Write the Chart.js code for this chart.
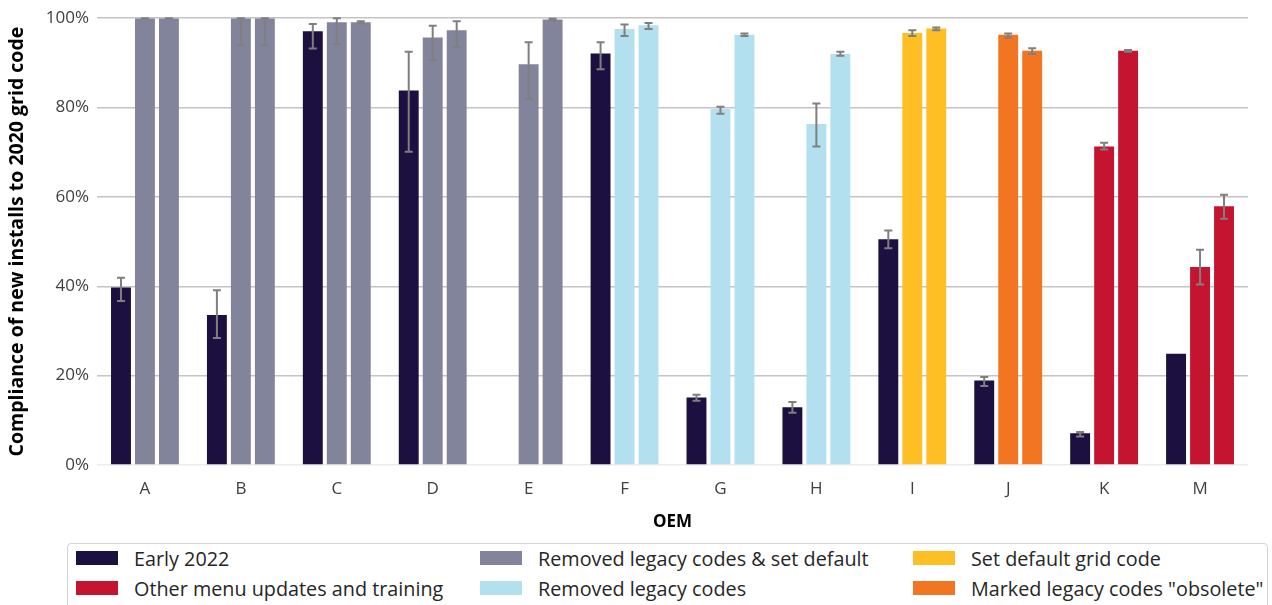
<!DOCTYPE html>
<html>
<head>
<meta charset="utf-8">
<script src="https://cdn.jsdelivr.net/npm/chart.js@4"></script>
<style>
  html, body { margin: 0; padding: 0; background: #fff; }
  body { width: 1272px; height: 605px; position: relative; overflow: hidden; font-family: 'Open Sans', sans-serif; }
  #chart-wrap { position: absolute; left: 0; top: 0; width: 1272px; height: 540px; }
  #legend {
    position: absolute; left: 67px; top: 543px; width: 1201px; height: 80px;
    border: 1px solid #d4d4d4; border-radius: 4px; box-sizing: border-box;
  }
  .legend-item { position: absolute; display: flex; align-items: center; height: 30px; font-size: 19.8px; color: #262626; white-space: nowrap; }
  .legend-swatch { width: 42px; height: 14px; margin-right: 16px; }
</style>
</head>
<body>
<div id="chart-wrap"><canvas id="chart"></canvas></div>
<div id="legend"></div>
<script>
// =============================================
// Data (% compliance)
// =============================================
const oems = ['A', 'B', 'C', 'D', 'E', 'F', 'G', 'H', 'I', 'J', 'K', 'M'];
const yTicks = [0, 20, 40, 60, 80, 100];

// intervention applied by each OEM (colours the two follow-up bars)
const interventions = [
  'Removed legacy codes & set default', 'Removed legacy codes & set default',
  'Removed legacy codes & set default', 'Removed legacy codes & set default',
  'Removed legacy codes & set default', 'Removed legacy codes', 'Removed legacy codes',
  'Removed legacy codes', 'Set default grid code', 'Marked legacy codes "obsolete"',
  'Other menu updates and training', 'Other menu updates and training'
];

const early2022     = [39.7, 33.6, 97.1, 83.8, null, 92.1, 15.1, 12.9, 50.5, 18.9, 7.1, 24.9];
const early2022Low  = [36.7, 28.4, 93.2, 70.1, null, 88.6, 14.4, 11.7, 48.5, 17.7, 6.4, null];
const early2022High = [41.9, 39.1, 98.7, 92.5, null, 94.6, 15.7, 14.1, 52.5, 19.7, 7.4, null];

const followUp1     = [100, 100, 99.1, 95.7, 89.7, 97.6, 79.7, 76.3, 96.7, 96.3, 71.3, 44.3];
const followUp1Low  = [99.9, 94.0, 94.3, 90.6, 81.9, 96.0, 78.6, 71.3, 96.0, 95.6, 70.6, 40.4];
const followUp1High = [100, 100, 100, 98.3, 94.6, 98.6, 80.2, 80.9, 97.3, 96.6, 72.1, 48.2];

const followUp2     = [100, 100, 99.1, 97.3, 99.7, 98.4, 96.3, 92.0, 97.7, 92.7, 92.7, 57.9];
const followUp2Low  = [99.9, 94.0, 98.8, 93.6, 99.5, 97.6, 96.0, 91.6, 97.3, 92.0, 92.5, 55.1];
const followUp2High = [100, 100, 99.3, 99.3, 99.9, 98.9, 96.6, 92.5, 97.9, 93.3, 92.9, 60.5];

// legend order (row by row, three columns)
const legendNames = [
  'Early 2022', 'Removed legacy codes & set default', 'Set default grid code',
  'Other menu updates and training', 'Removed legacy codes', 'Marked legacy codes "obsolete"'
];

// =============================================
// Styles
// =============================================
const colors = {
  'Early 2022': '#1b1040',
  'Removed legacy codes & set default': '#82849b',
  'Removed legacy codes': '#b3e0ee',
  'Set default grid code': '#fdbf23',
  'Marked legacy codes "obsolete"': '#f27522',
  'Other menu updates and training': '#c51430'
};
const FONT = "'Open Sans', sans-serif";
const ERR_COLOR = '#7f7f7f';

// =============================================
// Error bar plugin
// =============================================
const errorBars = {
  id: 'errorBars',
  afterDatasetsDraw(chart) {
    const ctx = chart.ctx;
    const y = chart.scales.y;
    chart.data.datasets.forEach((ds, di) => {
      const meta = chart.getDatasetMeta(di);
      meta.data.forEach((bar, i) => {
        const lo = ds.errLow[i], hi = ds.errHigh[i];
        if (lo == null || hi == null) return;
        const yLo = y.getPixelForValue(lo);
        const yHi = y.getPixelForValue(hi);
        ctx.save();
        ctx.strokeStyle = ERR_COLOR;
        ctx.lineWidth = 2;
        ctx.beginPath();
        ctx.moveTo(bar.x, yLo); ctx.lineTo(bar.x, yHi);
        ctx.moveTo(bar.x - 4, yLo); ctx.lineTo(bar.x + 4, yLo);
        ctx.moveTo(bar.x - 4, yHi); ctx.lineTo(bar.x + 4, yHi);
        ctx.stroke();
        ctx.restore();
      });
    });
  }
};

function makeDataset(label, values, low, high, colorFn) {
  return {
    label,
    data: values,
    errLow: low,
    errHigh: high,
    backgroundColor: values.map((v, i) => colorFn(i)),
    borderWidth: 0,
    categoryPercentage: 0.75,
    barPercentage: 0.83
  };
}

// =============================================
// Chart
// =============================================
new Chart(document.getElementById('chart'), {
  type: 'bar',
  data: {
    labels: oems,
    datasets: [
      makeDataset('Early 2022', early2022, early2022Low, early2022High, () => colors['Early 2022']),
      makeDataset('Follow-up 1', followUp1, followUp1Low, followUp1High, i => colors[interventions[i]]),
      makeDataset('Follow-up 2', followUp2, followUp2Low, followUp2High, i => colors[interventions[i]])
    ]
  },
  options: {
    responsive: true,
    maintainAspectRatio: false,
    animation: false,
    layout: { padding: { top: 17, right: 24, left: 0, bottom: 4 } },
    scales: {
      x: {
        grid: { display: false },
        border: { display: false },
        ticks: { font: { family: FONT, size: 17 }, color: '#404040', padding: 6 },
        title: { display: true, text: 'OEM', font: { family: FONT, size: 17, weight: 'bold' }, color: '#000', padding: { top: 4, bottom: 4 } },
        afterFit: (s) => { s.height = 71; }
      },
      y: {
        min: 0,
        max: 100,
        afterBuildTicks: (s) => { s.ticks = yTicks.map(v => ({ value: v })); },
        grid: {
          color: (c) => c.tick && c.tick.value === 0 ? '#ececec' : '#c4c4c4',
          lineWidth: 1.5,
          drawTicks: false
        },
        border: { display: false },
        ticks: {
          font: { family: FONT, size: 17 },
          color: '#404040',
          padding: 8,
          callback: (v) => v + '%'
        },
        title: {
          display: true,
          text: 'Compliance of new installs to 2020 grid code',
          font: { family: FONT, size: 19.5, weight: 'bold' },
          color: '#000',
          padding: { top: 6, bottom: 2 }
        },
        afterFit: (s) => { s.width = 97; }
      }
    },
    plugins: {
      legend: { display: false },
      tooltip: { enabled: false }
    }
  },
  plugins: [errorBars]
});

// =============================================
// Legend (three aligned columns)
// =============================================
const legendCols = [8, 412, 845];
document.getElementById('legend').innerHTML = legendNames.map((name, i) => `
  <div class="legend-item" style="left:${legendCols[i % 3]}px; top:${-1 + Math.floor(i / 3) * 30}px">
    <div class="legend-swatch" style="background:${colors[name]}"></div>${name}
  </div>
`).join('');
</script>
</body>
</html>
